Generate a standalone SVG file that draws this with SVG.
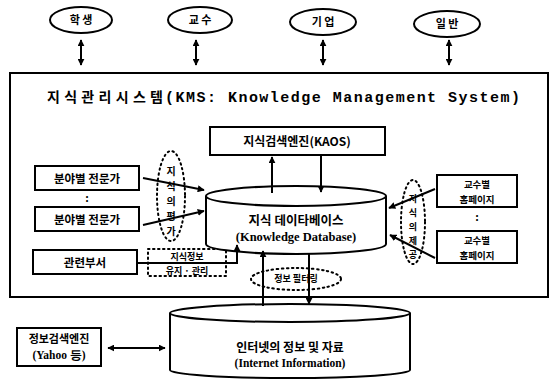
<svg xmlns="http://www.w3.org/2000/svg" width="555" height="381" viewBox="0 0 555 381">
<defs>
<marker id="ah" viewBox="0 0 10 10" refX="9" refY="5" markerWidth="7" markerHeight="7" orient="auto-start-reverse" markerUnits="userSpaceOnUse">
<path d="M0,0 L10,5 L0,10 Z" fill="#000"/>
</marker>
<style>
.ln{stroke:#000;stroke-width:2;fill:none}
.bx{stroke:#000;stroke-width:2;fill:#fff}
.dot{stroke:#000;stroke-width:2;stroke-dasharray:1.5 3.5;fill:none;stroke-linecap:round}
.k{font-family:"Noto Sans CJK KR","Noto Sans",sans-serif;font-weight:bold;fill:#000;text-anchor:middle}
.ks{font-family:"Noto Sans CJK KR","Noto Sans",sans-serif;font-weight:bold;fill:#000;text-anchor:start}
.e{font-family:"Liberation Serif",serif;font-weight:bold;fill:#000;text-anchor:middle}
.m{font-family:"Liberation Mono",monospace;font-weight:bold;fill:#000;text-anchor:start}
</style>
</defs>
<rect width="555" height="381" fill="#fff"/>

<g id="user-student"><ellipse cx="81" cy="20" rx="31" ry="13" class="bx"/><text x="81" y="24" class="k" font-size="11">학 생</text></g>
<g id="user-professor"><ellipse cx="200" cy="20" rx="32" ry="13" class="bx"/><text x="200" y="24" class="k" font-size="11">교 수</text></g>
<g id="user-company"><ellipse cx="323" cy="22" rx="33" ry="13" class="bx"/><text x="323" y="26" class="k" font-size="11">기 업</text></g>
<g id="user-general"><ellipse cx="447" cy="24" rx="33" ry="13" class="bx"/><text x="447" y="28" class="k" font-size="11">일 반</text></g>

<g id="kms"><rect x="10" y="73" width="538" height="224" class="bx" stroke-width="1.5"/>
<text x="47" y="102" class="ks" font-size="14" textLength="116" lengthAdjust="spacing">지식관리시스템</text>
<text x="165" y="102" class="m" font-size="15" textLength="355" lengthAdjust="spacing">(KMS: Knowledge Management System)</text></g>

<g id="kaos"><rect x="210" y="127" width="175" height="28" class="bx"/><text x="297" y="146" class="k" font-size="12">지식검색엔진(KAOS)</text></g>

<g id="expert1"><rect x="35" y="166" width="104" height="24" class="bx"/><text x="87" y="183" class="k" font-size="11.5">분야별 전문가</text></g>
<text x="87" y="202" class="k" font-size="11">:</text>
<g id="expert2"><rect x="35" y="207" width="104" height="24" class="bx"/><text x="87" y="224" class="k" font-size="11.5">분야별 전문가</text></g>
<g id="dept"><rect x="33" y="250" width="104" height="24" class="bx"/><text x="85" y="267" class="k" font-size="11.5">관련부서</text></g>

<g id="eval"><ellipse cx="171" cy="196" rx="14" ry="45" class="dot"/>
<text class="k" font-size="10"><tspan x="171" y="175">지</tspan><tspan x="171" y="190">식</tspan><tspan x="171" y="205">의</tspan><tspan x="171" y="220">평</tspan><tspan x="171" y="235">가</tspan></text></g>

<g id="maint"><rect x="148" y="249" width="78" height="27" class="dot"/>
<text x="187" y="260" class="k" font-size="9">지식정보</text><text x="187" y="273.5" class="k" font-size="9">유지 · 관리</text></g>

<g id="kdb"><path d="M206,196 L206,244 A90,10 0 0 0 386,244 L386,196" class="bx"/><ellipse cx="296" cy="196" rx="90" ry="10" class="bx"/>
<text x="296" y="225" class="k" font-size="12.5">지식 데이타베이스</text>
<text x="296" y="241" class="e" font-size="12.5">(Knowledge Database)</text></g>

<g id="provide"><ellipse cx="413" cy="222" rx="12" ry="42" class="dot"/>
<text class="k" font-size="9"><tspan x="413" y="202">지</tspan><tspan x="413" y="216">식</tspan><tspan x="413" y="230">의</tspan><tspan x="413" y="244">제</tspan><tspan x="413" y="258">공</tspan></text></g>

<g id="prof1"><rect x="437" y="175" width="80" height="32" class="bx"/><text x="477" y="188" class="k" font-size="9.5">교수별</text><text x="477" y="202.5" class="k" font-size="9.5">홈페이지</text></g>
<text x="477" y="221" class="k" font-size="11">:</text>
<g id="prof2"><rect x="437" y="231" width="80" height="32" class="bx"/><text x="477" y="244" class="k" font-size="9.5">교수별</text><text x="477" y="258.5" class="k" font-size="9.5">홈페이지</text></g>

<g id="filter"><ellipse cx="296" cy="279" rx="45" ry="11" class="dot"/><text x="296" y="282" class="k" font-size="9">정보 필터링</text></g>

<g id="search"><rect x="17" y="328" width="84" height="38" class="bx"/><text x="59" y="343" class="k" font-size="11">정보검색엔진</text><text x="59" y="359" class="e" font-size="11.5">(Yahoo 등)</text></g>

<g id="idb"><path d="M170,313 L170,370 A120,8 0 0 0 410,370 L410,313" class="bx"/><ellipse cx="290" cy="313" rx="120" ry="9" class="bx"/>
<text x="290" y="352" class="k" font-size="12">인터넷의 정보 및 자료</text>
<text x="290" y="367" class="e" font-size="11.5">(Internet Information)</text></g>

<g id="connectors">
<line x1="81" y1="40" x2="81" y2="65" class="ln" stroke-width="1.5" marker-start="url(#ah)" marker-end="url(#ah)"/>
<line x1="196" y1="40" x2="196" y2="65" class="ln" stroke-width="1.5" marker-start="url(#ah)" marker-end="url(#ah)"/>
<line x1="323" y1="40" x2="323" y2="65" class="ln" stroke-width="1.5" marker-start="url(#ah)" marker-end="url(#ah)"/>
<line x1="449" y1="40" x2="449" y2="65" class="ln" stroke-width="1.5" marker-start="url(#ah)" marker-end="url(#ah)"/>
<line x1="272" y1="193" x2="272" y2="157" class="ln" marker-end="url(#ah)"/>
<line x1="321" y1="155" x2="321" y2="192" class="ln" marker-end="url(#ah)"/>
<line x1="143" y1="178" x2="204" y2="190" class="ln" marker-end="url(#ah)"/>
<line x1="143" y1="225" x2="204" y2="211" class="ln" marker-end="url(#ah)"/>
<polyline points="137,263 237,263 237,245" class="ln" marker-end="url(#ah)"/>
<line x1="435" y1="189" x2="389" y2="208" class="ln" marker-end="url(#ah)"/>
<line x1="435" y1="258" x2="390" y2="235" class="ln" marker-end="url(#ah)"/>
<line x1="263" y1="306" x2="263" y2="251" class="ln" marker-end="url(#ah)"/>
<line x1="309" y1="253" x2="309" y2="304" class="ln" marker-end="url(#ah)"/>
<line x1="108" y1="348" x2="165" y2="348" class="ln" marker-start="url(#ah)" marker-end="url(#ah)"/>
</g>
</svg>
